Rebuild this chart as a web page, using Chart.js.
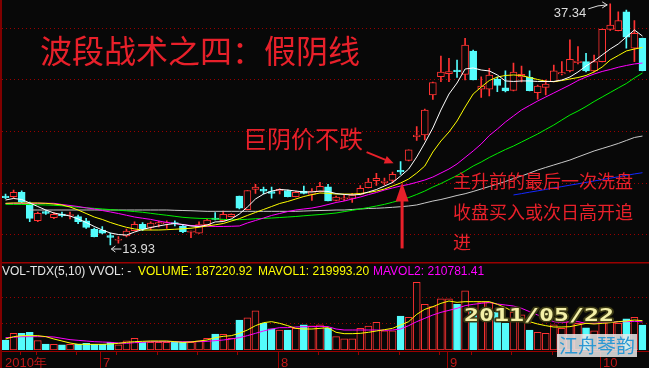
<!DOCTYPE html>
<html>
<head>
<meta charset="utf-8">
<title>波段战术之四：假阴线</title>
<script src="https://cdn.jsdelivr.net/npm/chart.js@4.4.1/dist/chart.umd.min.js"></script>
<style>
  html, body { margin: 0; padding: 0; background: #080808; }
  #wrap { position: relative; width: 649px; height: 368px; overflow: hidden; background: #080808; }
  #price { position: absolute; left: 0; top: 0; }
  #vol { position: absolute; left: 0; top: 262px; }
</style>
</head>
<body>
<div id="wrap">
  <canvas id="price" width="649" height="262"></canvas>
  <canvas id="vol" width="649" height="106"></canvas>
</div>
<script>
// ---- trading days (2010) ----
const junDays = [10,11,17,18,21,22,23,24,25,28,29,30];
const julDays = [1,2,5,6,7,8,9,12,13,14,15,16,19,20,21,22,23,26,27,28,29,30];
const augDays = [2,3,4,5,6,9,10,11,12,13,16,17,18,19,20,23,24,25,26,27,30];
const sepDays = [1,2,3,6,7,8,9,10,13,14,15,16,17,20,21,27,28,29,30];
const octDays = [8,11,12,13,14,15];
const monthLabels = ['2010年', '7', '8', '9', '10'];

// ---- daily candles ----
const open = [
  18.69,18.62,19.05,17.98,16.29,17.17,16.58,16.94,16.78,16.68,
  16.29,15.49,15.39,14.85,14.39,14.81,15.32,15.94,15.63,15.97,
  15.97,16.12,15.78,15.19,15.07,15.90,16.55,16.29,16.68,18.69,
  17.36,19.34,19.34,19.11,19.20,19.22,18.62,19.17,18.84,19.11,
  19.59,18.27,18.37,18.45,18.85,19.51,20.17,19.98,20.19,21.18,
  22.14,24.45,24.61,28.50,30.27,30.56,30.92,30.49,32.77,29.05,
  29.05,30.03,29.20,28.95,30.24,30.21,28.72,29.24,29.79,30.53,
  30.83,31.63,31.73,30.83,31.73,34.87,34.74,36.58,33.03,34.00];
const high = [
  18.88,19.27,19.20,18.11,17.14,17.28,17.09,17.14,17.14,16.84,
  16.52,15.58,15.71,15.10,14.74,15.49,16.19,16.10,16.19,16.26,
  16.29,16.29,15.87,15.29,16.19,16.46,17.09,17.23,16.97,18.69,
  19.22,19.83,19.56,19.56,19.42,19.27,19.17,19.66,19.42,20.02,
  19.83,18.69,18.79,18.95,19.71,20.41,20.89,20.44,21.02,22.02,
  23.16,25.42,27.14,29.76,32.28,32.06,31.89,34.00,32.86,30.27,
  31.09,30.24,30.83,31.60,31.31,30.83,29.47,29.95,31.41,31.73,
  33.86,33.19,32.54,32.38,34.90,37.34,36.58,36.75,35.71,34.03];
const low = [
  18.43,18.47,18.01,16.19,16.19,16.89,16.50,16.65,16.46,16.00,
  15.55,14.71,15.00,13.93,14.10,14.71,15.29,15.32,15.39,15.68,
  15.55,15.78,15.13,14.64,15.05,15.87,16.36,16.26,16.65,17.43,
  17.33,18.95,18.88,18.47,18.88,18.59,18.59,18.88,18.25,19.08,
  18.20,18.20,18.23,18.06,18.79,19.47,19.71,19.76,19.95,20.78,
  22.09,24.08,24.13,28.06,29.79,29.79,30.19,29.95,29.95,28.25,
  28.40,28.82,28.79,28.88,29.76,28.88,28.08,28.50,29.76,30.44,
  30.73,31.51,30.73,30.73,31.70,34.76,34.71,33.03,31.73,30.83];
const close = [
  18.52,19.05,18.08,16.52,17.01,17.01,16.91,16.78,16.84,16.19,
  15.65,14.74,15.07,14.66,14.49,15.29,15.94,15.51,16.07,16.10,
  16.10,15.97,15.22,15.29,15.92,16.36,16.41,16.91,16.91,17.50,
  19.22,19.56,19.17,18.95,19.34,18.62,19.05,18.93,19.17,19.63,
  18.20,18.59,18.52,18.79,19.44,20.05,20.41,20.15,20.80,21.02,
  23.16,24.61,27.04,29.71,30.73,30.78,30.76,33.35,29.95,29.37,
  30.44,29.42,28.88,30.73,30.49,28.91,29.37,29.56,30.83,30.66,
  31.96,31.80,30.83,31.73,34.87,35.29,35.71,34.10,34.49,30.86];

// ---- moving averages ----
const ma5 = [
  18.30,18.45,18.35,18.01,17.67,17.33,17.04,16.89,16.75,16.46,
  16.12,15.73,15.39,15.10,14.95,14.90,15.19,15.44,15.63,15.78,
  15.92,16.02,15.92,15.78,15.73,15.87,16.17,16.21,16.46,16.94,
  17.62,18.40,18.88,19.17,19.32,19.27,19.17,19.08,19.08,19.17,
  19.13,18.93,18.84,18.79,18.84,19.08,19.32,19.66,20.00,20.63,
  21.31,22.48,23.84,25.29,27.04,28.59,29.66,31.02,31.12,30.92,
  30.83,30.44,29.86,29.81,29.86,29.86,29.81,29.81,29.81,29.95,
  30.24,30.73,31.31,31.80,32.38,32.96,33.45,34.13,34.81,34.22];
const ma10 = [
  17.98,18.01,18.01,18.01,18.01,17.98,17.91,17.82,17.62,17.33,
  16.99,16.65,16.41,16.12,15.87,15.65,15.49,15.39,15.39,15.39,
  15.42,15.46,15.51,15.56,15.66,15.78,15.89,16.02,16.26,16.49,
  16.80,17.09,17.38,17.67,17.96,18.16,18.40,18.64,18.82,18.98,
  18.95,18.88,18.88,18.88,18.93,19.03,19.17,19.37,19.66,19.95,
  20.34,20.92,21.60,22.96,24.03,24.90,25.97,27.33,28.59,29.27,
  29.90,30.24,30.39,30.44,30.39,30.19,30.00,29.83,29.79,29.90,
  30.05,30.19,30.39,30.73,31.21,31.89,32.33,32.77,32.96,33.11];
const ma20 = [
  17.96,17.98,17.98,17.98,17.98,17.98,17.98,17.86,17.77,17.67,
  17.54,17.43,17.28,17.14,16.99,16.82,16.65,16.53,16.42,16.26,
  16.12,16.02,15.90,15.83,15.78,15.75,15.73,15.73,15.75,15.78,
  16.07,16.31,16.55,16.80,16.99,17.18,17.33,17.43,17.52,17.67,
  17.86,18.06,18.20,18.40,18.59,18.82,19.03,19.27,19.47,19.66,
  19.81,20.02,20.24,20.53,20.92,21.31,21.80,22.43,23.06,23.74,
  24.56,25.19,25.87,26.46,27.04,27.48,27.91,28.30,28.69,29.08,
  29.47,29.90,30.24,30.53,30.78,30.97,31.19,31.36,31.51,31.60];
const ma30 = [
  17.88,17.88,17.87,17.86,17.84,17.82,17.79,17.74,17.67,17.60,
  17.54,17.49,17.43,17.37,17.31,17.25,17.18,17.11,17.01,16.91,
  16.82,16.72,16.62,16.56,16.52,16.50,16.46,16.42,16.38,16.39,
  16.43,16.48,16.51,16.55,16.60,16.65,16.70,16.77,16.83,16.89,
  16.96,17.04,17.17,17.30,17.43,17.57,17.72,17.88,18.08,18.30,
  18.54,18.84,19.17,19.56,19.90,20.29,20.68,21.12,21.60,21.99,
  22.43,22.82,23.20,23.54,23.93,24.32,24.71,25.15,25.58,26.07,
  26.55,26.94,27.38,27.86,28.30,28.74,29.18,29.61,30.15,30.63];
const ma60 = [
  null,null,null,17.33,17.33,17.33,17.33,17.33,17.33,17.33,
  17.33,17.33,17.33,17.33,17.33,17.33,17.33,17.33,17.33,17.33,
  17.33,17.30,17.28,17.26,17.23,17.20,17.20,17.20,17.20,17.20,
  17.20,17.20,17.20,17.20,17.20,17.20,17.20,17.23,17.26,17.28,
  17.30,17.33,17.33,17.38,17.43,17.48,17.50,17.54,17.59,17.65,
  17.72,17.82,18.01,18.20,18.35,18.54,18.74,18.91,19.13,19.37,
  19.61,19.85,20.10,20.39,20.63,20.92,21.21,21.46,21.70,21.94,
  22.18,22.48,22.77,23.06,23.30,23.54,23.79,24.08,24.37,24.51];
const ma120 = [...Array(63).fill(null),
  18.79,18.92,19.06,19.19,19.33,19.47,19.60,19.74,19.87,20.01,
  20.15,20.28,20.42,20.55,20.69,20.83,20.95];

// ---- volume ----
const vol = [
  75000,125000,125000,133000,70000,45000,43000,38000,43000,45000,
  50000,43000,43000,58000,38000,68000,88000,58000,58000,58000,
  58000,62000,58000,58000,68000,88000,120000,118000,88000,225000,
  242000,293000,200000,158000,150000,150000,163000,188000,182000,188000,
  165000,100000,83000,83000,163000,180000,208000,143000,143000,255000,
  245000,508000,343000,325000,383000,383000,343000,443000,308000,362000,
  355000,283000,200000,283000,263000,150000,133000,125000,188000,163000,
  212000,200000,167000,143000,225000,212000,200000,233000,245000,187220.92];
const volMa5 = [
  82500,100000,107500,107500,107500,100000,82500,67500,52500,42500,
  42500,42500,42500,45000,50000,57500,62500,65000,67500,67500,
  67500,62500,57500,60000,67500,75000,92500,102500,107500,125000,
  150000,182500,205000,212500,200000,182500,162500,157500,157500,162500,
  167500,132500,122500,122500,125000,132500,142500,152500,162500,187500,
  212500,267500,305000,325000,350000,367500,357500,362500,362500,362500,
  362500,342500,317500,287500,242500,212500,195000,182500,172500,172500,
  175000,187500,200000,195000,200000,205000,212500,217500,225000,219993.20];
const volMa10 = [
  92500,95000,100000,100000,100000,100000,97500,87500,77500,72500,
  67500,62500,60000,57500,52500,50000,55000,57500,62500,62500,
  62500,62500,62500,62500,62500,65000,70000,75000,82500,92500,
  107500,125000,142500,157500,167500,167500,172500,175000,175000,177500,
  175000,157500,150000,150000,150000,150000,150000,147500,150000,157500,
  182500,212500,237500,262500,282500,297500,312500,332500,342500,350000,
  357500,345000,337500,330000,312500,287500,262500,237500,212500,205000,
  212500,212500,200000,200000,205000,207500,212500,212500,215000,210781.41];

const priceGrid = [15, 20, 25, 30, 35];
const volGrid = [200000, 400000];

// ---- look ----
const BG = '#080808', RED = '#ff3232', CYAN = '#54fcfc', DARKRED = '#9a0000', NOTE = '#e8202a';
const FONT_UI = '"Liberation Sans", Arial, sans-serif';
const FONT_CJK = '"Noto Sans CJK SC", sans-serif';

const pad2 = (d) => String(d).padStart(2, '0');
const mk = (m, arr) => arr.map((d) => `2010-${pad2(m)}-${pad2(d)}`);
const days = [...mk(6, junDays), ...mk(7, julDays), ...mk(8, augDays), ...mk(9, sepDays), ...mk(10, octDays)];
const up = close.map((c, i) => c >= open[i]);
const monthStarts = days.map((d, i) => (i === 0 || d.slice(5, 7) !== days[i - 1].slice(5, 7) ? i : -1)).filter((i) => i >= 0);
const weekStarts = days.map((d, i) => (i > 0 && new Date(d).getUTCDay() < new Date(days[i - 1]).getUTCDay() && !monthStarts.includes(i) ? i : -1)).filter((i) => i >= 0);

function maLine(data, color, order) {
  return { type: 'line', data, borderColor: color, borderWidth: 1, pointRadius: 0, tension: 0, fill: false, order };
}
function head(ctx, x1, y1, x2, y2, len, wid) {   // filled arrow head at (x2,y2)
  const a = Math.atan2(y2 - y1, x2 - x1), c = Math.cos(a), s = Math.sin(a);
  ctx.beginPath();
  ctx.moveTo(x2, y2);
  ctx.lineTo(x2 - len * c + wid * s, y2 - len * s - wid * c);
  ctx.lineTo(x2 - len * c - wid * s, y2 - len * s + wid * c);
  ctx.closePath(); ctx.fill();
}
function vee(ctx, x1, y1, x2, y2, len, wid) {    // open arrow head
  const a = Math.atan2(y2 - y1, x2 - x1), c = Math.cos(a), s = Math.sin(a);
  ctx.beginPath();
  ctx.moveTo(x2 - len * c + wid * s, y2 - len * s - wid * c);
  ctx.lineTo(x2, y2);
  ctx.lineTo(x2 - len * c - wid * s, y2 - len * s + wid * c);
  ctx.stroke();
}

const baseOpts = (yMin, yMax, padBottom) => ({
  responsive: false, animation: false, devicePixelRatio: 1,
  layout: { padding: { left: 1.5, right: 2.5, top: 0, bottom: padBottom } },
  plugins: { legend: { display: false }, tooltip: { enabled: false } },
  scales: { x: { display: false, offset: true }, y: { display: false, min: yMin, max: yMax } },
});

const bgFill = { id: 'bgFill', beforeDraw(c) { const g = c.ctx; g.save(); g.fillStyle = BG; g.fillRect(0, 0, c.width, c.height); g.restore(); } };

function dotted(c, values) {
  const g = c.ctx, ys = c.scales.y;
  g.save(); g.strokeStyle = DARKRED; g.lineWidth = 1; g.setLineDash([1, 3]);
  values.forEach((v) => { const y = Math.round(ys.getPixelForValue(v)) + 0.5; g.beginPath(); g.moveTo(2, y); g.lineTo(c.width, y); g.stroke(); });
  g.restore();
}

// ---- price panel ----
const priceDeco = {
  id: 'priceDeco',
  beforeDatasetsDraw(c) { dotted(c, priceGrid); },
  afterDatasetsDraw(c) {
    const g = c.ctx, xs = c.scales.x, ys = c.scales.y;
    g.save();
    g.fillStyle = '#800000'; g.fillRect(0, 0, 2, c.height);

    g.fillStyle = NOTE; g.textAlign = 'left'; g.textBaseline = 'middle';
    g.font = '32px ' + FONT_CJK; g.fillText('波段战术之四：假阴线', 40, 51);
    g.font = '24px ' + FONT_CJK; g.fillText('巨阴价不跌', 243, 139);
    g.font = '18px ' + FONT_CJK;
    g.fillText('主升前的最后一次洗盘', 453, 181);
    g.fillText('收盘买入或次日高开追', 453, 212.5);
    g.fillText('进', 453, 242.5);

    // arrow to the big-volume cross candle
    const k = 49, kx = xs.getPixelForValue(k), ky = ys.getPixelForValue(high[k]);
    const tx = kx - 7, ty = ky + 1.5;
    g.strokeStyle = NOTE; g.lineWidth = 2;
    g.beginPath(); g.moveTo(tx - 27, ty - 11); g.lineTo(tx - 5, ty - 2); g.stroke();
    head(g, tx - 27, ty - 11, tx, ty, 9, 4);

    // big vertical arrow under it
    const ax = kx + 1.5, aTop = ys.getPixelForValue(20), aBot = ys.getPixelForValue(13.6);
    g.fillRect(ax - 1.5, aTop + 16, 3, aBot - aTop - 16);
    head(g, ax, aBot, ax, aTop, 19, 6.5);

    // high / low markers
    const hi = high.indexOf(Math.max(...high)), lo = low.indexOf(Math.min(...low));
    const hx = xs.getPixelForValue(hi), hy = ys.getPixelForValue(high[hi]);
    const lx = xs.getPixelForValue(lo), ly = ys.getPixelForValue(low[lo]);
    g.fillStyle = '#dcdcdc'; g.strokeStyle = '#dcdcdc'; g.lineWidth = 1;
    g.font = '13px ' + FONT_UI; g.textBaseline = 'alphabetic';
    g.textAlign = 'right'; g.fillText(high[hi].toFixed(2), hx - 24, hy + 13);
    g.beginPath(); g.moveTo(hx - 22, hy + 5); g.quadraticCurveTo(hx - 12, hy + 1, hx - 3, hy + 1); g.stroke();
    vee(g, hx - 12, hy + 1, hx - 3, hy + 1, 5, 3);
    g.textAlign = 'left'; g.fillText(low[lo].toFixed(2), lx + 12, ly + 8);
    g.beginPath(); g.moveTo(lx + 11, ly + 4); g.lineTo(lx + 1, ly + 4); g.stroke();
    vee(g, lx + 11, ly + 4, lx + 1, ly + 4, 4, 3);
    g.restore();
  },
};

new Chart(document.getElementById('price'), {
  type: 'bar',
  data: {
    labels: days,
    datasets: [
      maLine(ma5, '#ffffff', 0),
      maLine(ma10, '#ffff00', 1),
      maLine(ma20, '#ff00ff', 2),
      maLine(ma30, '#00f000', 3),
      maLine(ma60, '#c8c8c8', 4),
      maLine(ma120, '#1428ff', 5),
      { label: 'body', data: open.map((o, i) => [o, close[i]]), backgroundColor: up.map((u) => (u ? BG : CYAN)),
        borderColor: up.map((u) => (u ? RED : CYAN)), borderWidth: 1, borderSkipped: false, barThickness: 7, minBarLength: 1, grouped: false, order: 10 },
      { label: 'wick', data: low.map((l, i) => [l, high[i]]), backgroundColor: up.map((u) => (u ? RED : CYAN)),
        borderWidth: 0, barThickness: 1, grouped: false, order: 11 },
    ],
  },
  options: baseOpts(12.282, 37.718, 0),
  plugins: [bgFill, priceDeco],
});

// ---- volume panel ----
const volDeco = {
  id: 'volDeco',
  beforeDatasetsDraw(c) {
    const g = c.ctx;
    dotted(c, volGrid);
    g.save();
    g.fillStyle = DARKRED; g.fillRect(0, 0, c.width, 1.5);
    g.fillRect(0, 89, c.width, 1);
    g.restore();
  },
  afterDatasetsDraw(c) {
    const g = c.ctx, xs = c.scales.x, n = vol.length - 1;
    g.save();
    g.fillStyle = '#800000'; g.fillRect(0, 0, 2, c.height);

    g.font = '12px ' + FONT_UI; g.textBaseline = 'middle'; g.textAlign = 'left';
    g.fillStyle = '#e6e6e6'; g.fillText('VOL-TDX(5,10) VVOL: -', 2, 9.5);
    g.fillStyle = '#ffff00';
    g.fillText('VOLUME: ' + vol[n].toFixed(2), 138, 9.5);
    g.fillText('MAVOL1: ' + volMa5[n].toFixed(2), 258, 9.5);
    g.fillStyle = '#ff00ff'; g.fillText('MAVOL2: ' + volMa10[n].toFixed(2), 373, 9.5);

    // date axis
    g.strokeStyle = DARKRED; g.lineWidth = 1;
    weekStarts.forEach((i) => { const x = Math.round(xs.getPixelForValue(i) - 2) + 0.5; g.beginPath(); g.moveTo(x, 90); g.lineTo(x, 93); g.stroke(); });
    g.fillStyle = '#c01818'; g.font = '13px ' + FONT_UI; g.textBaseline = 'alphabetic';
    monthStarts.forEach((i, m) => {
      const x = Math.round(xs.getPixelForValue(i) - 2) + 0.5;
      if (i > 0) { g.beginPath(); g.moveTo(x, 90); g.lineTo(x, c.height); g.stroke(); }
      g.fillText(monthLabels[m], i > 0 ? x + 2.5 : 5, 104.5);
    });

    // date stamp watermark
    const t = '2011/05/22';
    g.font = 'bold 18px "DejaVu Sans Mono", monospace'; g.textBaseline = 'middle';
    const tw = g.measureText(t).width;
    g.save(); g.translate(464, 54.5); g.scale(150 / tw, 1);
    g.lineJoin = 'round'; g.lineWidth = 3; g.strokeStyle = '#3c3a14'; g.strokeText(t, 0, 0);
    g.fillStyle = '#f4f0a8'; g.fillText(t, 0, 0);
    g.restore();

    // logo box
    g.fillStyle = 'rgba(232,232,232,0.86)'; g.fillRect(557, 72, 80, 23);
    g.fillStyle = '#2a98d4'; g.font = '19px ' + FONT_CJK; g.textBaseline = 'middle';
    g.fillText('江舟琴韵', 559, 84);
    g.restore();
  },
};

new Chart(document.getElementById('vol'), {
  type: 'bar',
  data: {
    labels: days,
    datasets: [
      maLine(volMa5, '#ffff00', 0),
      maLine(volMa10, '#ff00ff', 1),
      { label: 'vol', data: vol, backgroundColor: up.map((u) => (u ? BG : CYAN)), borderColor: up.map((u) => (u ? RED : CYAN)),
        borderWidth: 1, borderSkipped: false, barThickness: 7, grouped: false, order: 10 },
    ],
  },
  options: baseOpts(0, 660000, 18),
  plugins: [bgFill, volDeco],
});
</script>
</body>
</html>
